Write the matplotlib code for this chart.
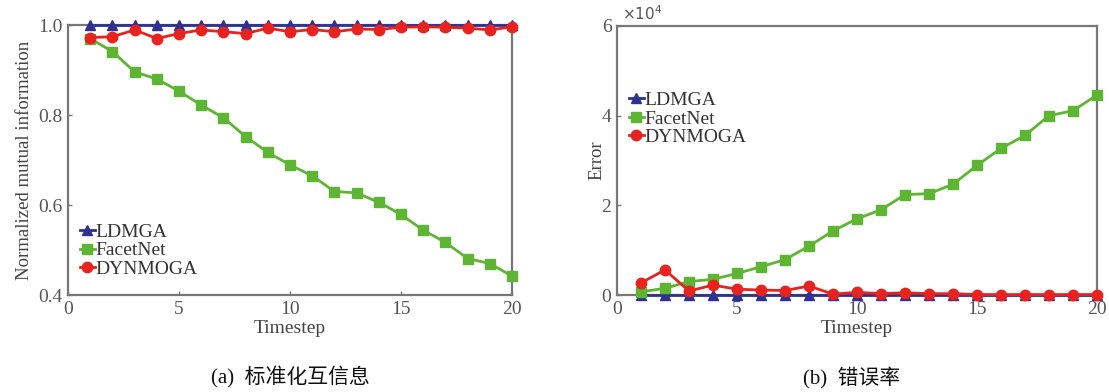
import matplotlib
matplotlib.use("Agg")
import matplotlib.pyplot as plt

timesteps = list(range(1, 21))

nmi_ldmga = [1.0] * 20
nmi_facetnet = [0.970, 0.941, 0.896, 0.880, 0.853, 0.822, 0.794, 0.752, 0.717, 0.689,
                0.665, 0.630, 0.627, 0.606, 0.579, 0.544, 0.517, 0.481, 0.470, 0.442]
nmi_dynmoga = [0.972, 0.974, 0.989, 0.970, 0.981, 0.989, 0.985, 0.981, 0.993, 0.985,
               0.990, 0.985, 0.991, 0.990, 0.995, 0.996, 0.995, 0.993, 0.989, 0.996]

err_ldmga = [0.0] * 20
err_facetnet = [0.07, 0.15, 0.30, 0.35, 0.48, 0.63, 0.79, 1.09, 1.43, 1.70,
                1.90, 2.24, 2.26, 2.47, 2.89, 3.27, 3.56, 4.00, 4.11, 4.46]
err_dynmoga = [0.27, 0.56, 0.09, 0.22, 0.13, 0.11, 0.10, 0.20, 0.02, 0.06,
               0.03, 0.05, 0.03, 0.03, 0.01, 0.01, 0.01, 0.01, 0.01, 0.01]

series_names = ["LDMGA", "FacetNet", "DYNMOGA"]
colors = ["#2e3192", "#5db533", "#e8231f"]
markers = ["^", "s", "o"]

plt.rcParams["font.family"] = ["Liberation Serif", "Noto Sans CJK SC"]

fig = plt.figure(figsize=(11.09, 3.92), dpi=100)
ax1 = fig.add_axes([68 / 1109, 97 / 392, 444 / 1109, 270 / 392])
ax2 = fig.add_axes([617 / 1109, 97 / 392, 480 / 1109, 269 / 392])

tick_color = "#555555"
frame_color = "#777777"


def style(ax):
    for s in ax.spines.values():
        s.set_color(frame_color)
        s.set_linewidth(1.6)
    ax.tick_params(direction="in", length=3, width=1, colors=frame_color,
                   labelcolor=tick_color, labelsize=14, top=False, right=False, pad=4)


for ys, c, m, n in zip([nmi_ldmga, nmi_facetnet, nmi_dynmoga], colors, markers, series_names):
    ax1.plot(timesteps, ys, color=c, marker=m, markersize=7.5, linewidth=2, label=n,
             clip_on=False, zorder=3)
ax1.set_xlim(0, 20)
ax1.set_ylim(0.4, 1.0)
ax1.set_xticks([0, 5, 10, 15, 20])
ax1.set_yticks([0.4, 0.6, 0.8, 1.0])
ax1.set_yticklabels(["0.4", "0.6", "0.8", "1.0"])
style(ax1)
ax1.set_xlabel("Timestep", fontsize=14, color="#444444", labelpad=2)
ax1.set_ylabel("Normalized mutual information", fontsize=13.5, color="#444444", labelpad=4)
leg1 = ax1.legend(loc="lower left", bbox_to_anchor=(0.0, 0.02), frameon=False, fontsize=14,
                  handlelength=0.8, handletextpad=0.0, labelspacing=0.05, borderaxespad=0.2,
                  labelcolor="#333333")

for ys, c, m, n in zip([err_ldmga, err_facetnet, err_dynmoga], colors, markers, series_names):
    ax2.plot(timesteps, ys, color=c, marker=m, markersize=7.5, linewidth=2, label=n,
             clip_on=False, zorder=3)
ax2.set_xlim(0, 20)
ax2.set_ylim(0, 6)
ax2.set_xticks([0, 5, 10, 15, 20])
ax2.set_yticks([0, 2, 4, 6])
style(ax2)
ax2.set_xlabel("Timestep", fontsize=14, color="#444444", labelpad=2)
ax2.set_ylabel("Error", fontsize=13.5, color="#444444", labelpad=-3)
ax2.text(0.01, 1.01, r"$\times10^4$", transform=ax2.transAxes, fontsize=11,
         color=tick_color, ha="left", va="bottom")
leg2 = ax2.legend(loc="upper left", bbox_to_anchor=(0.0, 0.80), frameon=False, fontsize=14,
                  handlelength=0.8, handletextpad=0.0, labelspacing=0.05, borderaxespad=0.2,
                  labelcolor="#333333")

fig.text(290 / 1109, 1 - 377 / 392, "(a)  标准化互信息", fontsize=15, ha="center", va="center",
         color="#111111")
fig.text(852 / 1109, 1 - 377 / 392, "(b)  错误率", fontsize=15, ha="center", va="center",
         color="#111111")

fig.savefig("out.png", dpi=100, facecolor="white")
